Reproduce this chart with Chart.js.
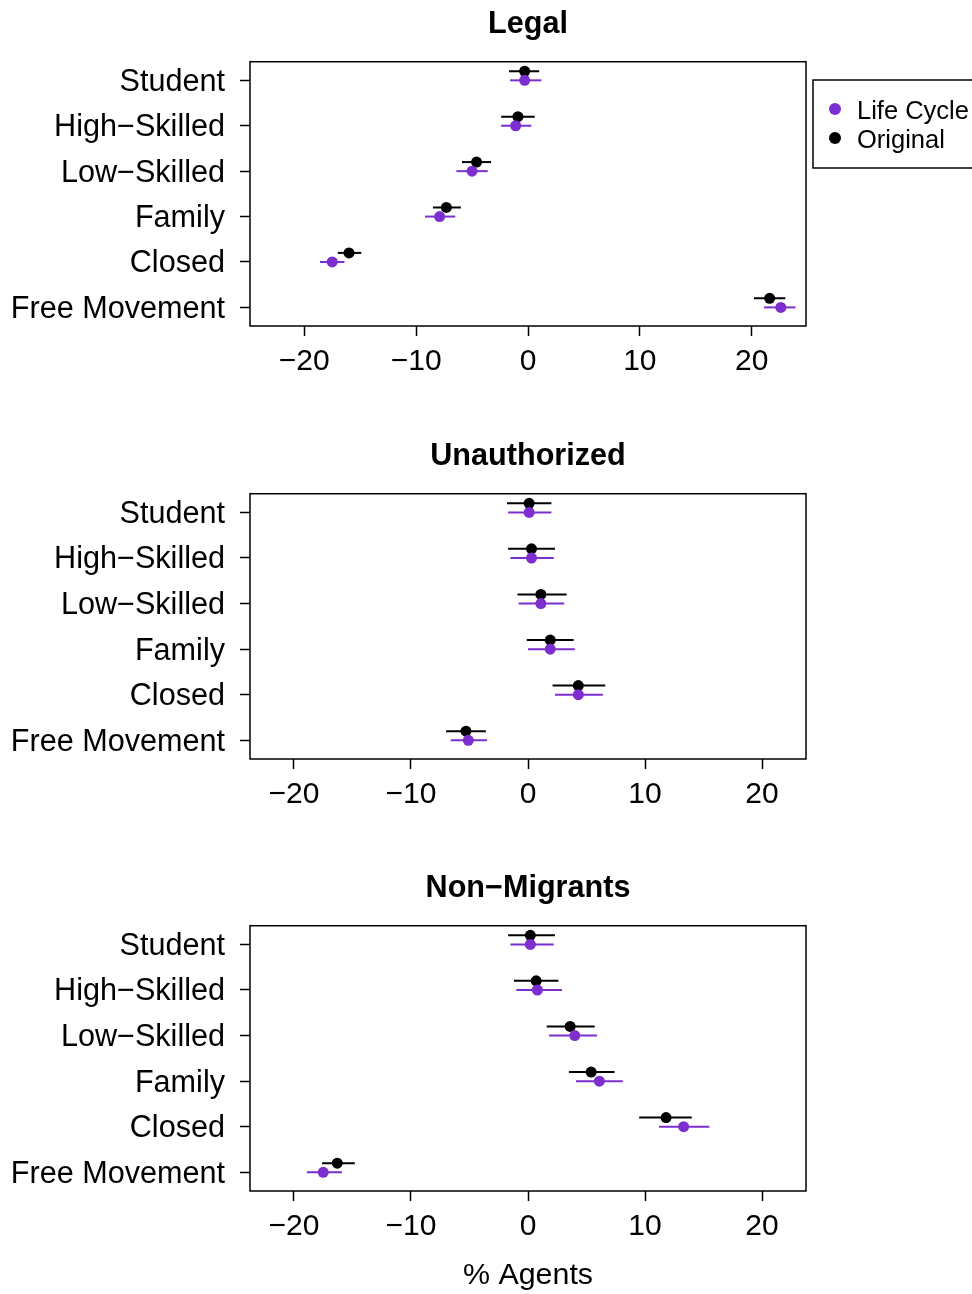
<!DOCTYPE html>
<html>
<head>
<meta charset="utf-8">
<script src="https://cdn.jsdelivr.net/npm/chart.js@4.4.1/dist/chart.umd.min.js"></script>
<style>
  body { margin: 0; background: #fff; }
  canvas.panel { position: absolute; left: 0; }
</style>
</head>
<body>
<canvas id="legalChart" class="panel" style="top:0px" width="972" height="432"></canvas>
<canvas id="unauthChart" class="panel" style="top:432px" width="972" height="432"></canvas>
<canvas id="nonMigChart" class="panel" style="top:864px" width="972" height="430"></canvas>
<script>
// rows listed top to bottom
const categories = ["Student", "High\u2212Skilled", "Low\u2212Skilled", "Family", "Closed", "Free Movement"];
const xTicks = [-20, -10, 0, 10, 20];

// Legal
const legalOrigMean = [-0.3, -0.9, -4.6, -7.3, -16.0, 21.6];
const legalOrigLo   = [-1.7, -2.4, -5.9, -8.5, -17.0, 20.2];
const legalOrigHi   = [1.0, 0.6, -3.3, -6.0, -14.9, 23.0];
const legalLcMean   = [-0.3, -1.1, -5.0, -7.9, -17.5, 22.6];
const legalLcLo     = [-1.6, -2.4, -6.4, -9.2, -18.6, 21.1];
const legalLcHi     = [1.2, 0.3, -3.6, -6.5, -16.4, 23.9];

// Unauthorized
const unauthOrigMean = [0.1, 0.3, 1.1, 1.9, 4.3, -5.3];
const unauthOrigLo   = [-1.8, -1.7, -0.9, -0.1, 2.1, -7.0];
const unauthOrigHi   = [2.0, 2.3, 3.3, 3.9, 6.6, -3.6];
const unauthLcMean   = [0.1, 0.3, 1.1, 1.9, 4.3, -5.1];
const unauthLcLo     = [-1.7, -1.5, -0.8, 0.0, 2.3, -6.6];
const unauthLcHi     = [2.0, 2.2, 3.1, 4.0, 6.4, -3.5];

// Non-Migrants
const nonMigOrigMean = [0.2, 0.7, 3.6, 5.4, 11.8, -16.3];
const nonMigOrigLo   = [-1.7, -1.2, 1.6, 3.5, 9.5, -17.6];
const nonMigOrigHi   = [2.3, 2.6, 5.7, 7.4, 14.0, -14.8];
const nonMigLcMean   = [0.2, 0.8, 4.0, 6.1, 13.3, -17.5];
const nonMigLcLo     = [-1.5, -1.0, 1.8, 4.1, 11.2, -18.9];
const nonMigLcHi     = [2.2, 2.9, 5.9, 8.1, 15.5, -15.9];

const purple = "#7D2ECF";
const fontFamily = "'Liberation Sans', Arial, Helvetica, sans-serif";

// horizontal interval lines behind each dot
const errorBars = {
  id: "errorBars",
  beforeDatasetsDraw(chart) {
    const { ctx, scales } = chart;
    ctx.save();
    ctx.lineWidth = 2;
    chart.data.datasets.forEach(ds => {
      ctx.strokeStyle = ds.borderColor;
      ds.data.forEach(p => {
        const y = scales.y.getPixelForValue(p.y);
        ctx.beginPath();
        ctx.moveTo(scales.x.getPixelForValue(p.lo), y);
        ctx.lineTo(scales.x.getPixelForValue(p.hi), y);
        ctx.stroke();
      });
    });
    ctx.restore();
  }
};

// box around the plotting region
const frame = {
  id: "frame",
  afterDatasetsDraw(chart) {
    const { ctx, chartArea: a } = chart;
    ctx.save();
    ctx.strokeStyle = "#000";
    ctx.lineWidth = 1.5;
    ctx.strokeRect(a.left, a.top, a.right - a.left, a.bottom - a.top);
    ctx.restore();
  }
};

// boxed legend to the right of the first panel
const sideLegend = {
  id: "sideLegend",
  afterDraw(chart) {
    const { ctx } = chart;
    const left = chart.chartArea.right + 7;
    const top = 80;
    ctx.save();
    ctx.strokeStyle = "#000";
    ctx.lineWidth = 1.5;
    ctx.strokeRect(left, top, 200, 88);
    ctx.font = "25.5px " + fontFamily;
    ctx.textBaseline = "middle";
    chart.data.datasets.forEach((ds, i) => {
      const y = top + 29 + i * 29;
      ctx.fillStyle = ds.backgroundColor;
      ctx.beginPath();
      ctx.arc(left + 22, y, 6, 0, Math.PI * 2);
      ctx.fill();
      ctx.fillStyle = "#000";
      ctx.fillText(ds.label, left + 44, y + 3);
    });
    ctx.restore();
  }
};

function points(mean, lo, hi, shift) {
  const n = categories.length;
  return mean.map((v, i) => ({ x: v, y: n - i + shift, lo: lo[i], hi: hi[i] }));
}

function makePanel(id, title, orig, lc, limit, opts) {
  const n = categories.length;
  const tickGrid = { drawOnChartArea: false, drawTicks: true, tickLength: 10, tickWidth: 1.5, tickColor: "#000" };
  return new Chart(document.getElementById(id), {
    type: "scatter",
    data: {
      datasets: [
        { label: "Life Cycle", data: points(lc[0], lc[1], lc[2], 0), backgroundColor: purple, borderColor: purple },
        { label: "Original", data: points(orig[0], orig[1], orig[2], 0.2), backgroundColor: "#000", borderColor: "#000" }
      ]
    },
    options: {
      responsive: false,
      animation: false,
      events: [],
      layout: { padding: { left: 0, right: 166, top: 0, bottom: 0 } },
      elements: { point: { radius: 5.5, borderWidth: 0, hoverRadius: 5.5 } },
      plugins: {
        legend: { display: false },
        tooltip: { enabled: false },
        title: {
          display: true, text: title, fullSize: false, color: "#000",
          font: { family: fontFamily, size: 30.6, weight: "bold" },
          padding: { top: 6, bottom: 19 }
        }
      },
      scales: {
        x: {
          type: "linear", min: -limit, max: limit,
          afterBuildTicks: s => { s.ticks = xTicks.map(v => ({ value: v })); },
          afterFit: s => { s.height = opts.xHeight; },
          grid: tickGrid,
          border: { display: false },
          ticks: {
            color: "#000", padding: 8, maxRotation: 0,
            font: { family: fontFamily, size: 30 },
            callback: v => String(v).replace("-", "\u2212")
          },
          title: {
            display: !!opts.xTitle, text: opts.xTitle || "", color: "#000",
            font: { family: fontFamily, size: 30.4 }, padding: { top: 0, bottom: 0 }
          }
        },
        y: {
          type: "linear", min: 0.59, max: 6.41,
          afterBuildTicks: s => { s.ticks = categories.map((c, i) => ({ value: n - i })); },
          afterFit: s => { s.width = 250; },
          grid: tickGrid,
          border: { display: false },
          ticks: {
            color: "#000", padding: 15, labelOffset: 2,
            font: { family: fontFamily, size: 30.6 },
            callback: v => categories[n - Math.round(v)]
          }
        }
      }
    },
    plugins: [errorBars, frame].concat(opts.extra || [])
  });
}

makePanel("legalChart", "Legal",
  [legalOrigMean, legalOrigLo, legalOrigHi],
  [legalLcMean, legalLcLo, legalLcHi],
  24.85, { xHeight: 106, extra: [sideLegend] });

makePanel("unauthChart", "Unauthorized",
  [unauthOrigMean, unauthOrigLo, unauthOrigHi],
  [unauthLcMean, unauthLcLo, unauthLcHi],
  23.76, { xHeight: 105 });

makePanel("nonMigChart", "Non\u2212Migrants",
  [nonMigOrigMean, nonMigOrigLo, nonMigOrigHi],
  [nonMigLcMean, nonMigLcLo, nonMigLcHi],
  23.76, { xHeight: 103, xTitle: "% Agents" });
</script>
</body>
</html>
